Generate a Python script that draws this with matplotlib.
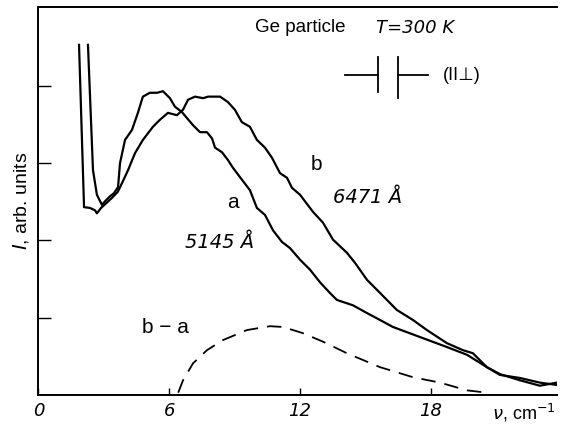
import matplotlib
matplotlib.use("Agg")
import matplotlib.pyplot as plt

# Raman spectra of a Ge particle
# frequency shift nu (cm^-1) and intensity (arb. units, one tick = 1)
nu_b = [1.86, 2.09, 2.36, 2.59, 2.68, 2.87, 3.10, 3.37, 3.64, 3.83, 4.11, 4.43,
        4.79, 5.25, 5.57, 5.94, 6.35, 6.63, 6.86, 7.18, 7.55, 7.78, 8.33, 8.69,
        9.01, 9.33, 9.70, 10.02, 10.39, 10.71, 11.08, 11.40, 11.63, 12.00, 12.59,
        13.05, 13.51, 14.15, 14.52, 15.07, 15.67, 16.44, 17.18, 17.82, 18.74,
        19.47, 19.93, 20.57, 21.17, 22.09, 23.00, 23.78]
int_b = [4.53, 2.43, 2.42, 2.39, 2.35, 2.42, 2.48, 2.55, 2.63, 2.74, 2.91, 3.13,
         3.30, 3.47, 3.56, 3.65, 3.62, 3.69, 3.82, 3.86, 3.84, 3.86, 3.86, 3.79,
         3.69, 3.53, 3.47, 3.30, 3.20, 3.07, 2.87, 2.81, 2.68, 2.59, 2.37,
         2.23, 2.01, 1.84, 1.71, 1.49, 1.32, 1.10, 0.97, 0.84, 0.67,
         0.58, 0.54, 0.36, 0.26, 0.22, 0.16, 0.13]

nu_a = [2.27, 2.50, 2.68, 2.91, 3.10, 3.28, 3.46, 3.65, 3.74, 3.97, 4.29, 4.56,
        4.79, 5.11, 5.44, 5.71, 6.03, 6.26, 6.58, 7.09, 7.41, 7.73, 7.96, 8.10,
        8.42, 8.69, 8.92, 9.24, 9.70, 10.02, 10.39, 10.76, 11.17, 11.54, 12.00,
        12.46, 12.91, 13.37, 13.69, 14.43, 15.07, 15.67, 16.26, 17.50, 18.74,
        19.66, 20.57, 21.17, 22.09, 23.00, 23.78]
int_a = [4.53, 2.91, 2.59, 2.46, 2.52, 2.57, 2.61, 2.69, 3.00, 3.30, 3.43, 3.65,
         3.86, 3.91, 3.91, 3.93, 3.84, 3.73, 3.66, 3.49, 3.40, 3.40, 3.32, 3.20,
         3.14, 3.04, 2.94, 2.82, 2.65, 2.42, 2.33, 2.13, 1.98, 1.90, 1.75,
         1.62, 1.46, 1.32, 1.23, 1.16, 1.06, 0.97, 0.88, 0.75, 0.62,
         0.52, 0.36, 0.27, 0.19, 0.12, 0.16]

# difference spectrum b - a (dashed)
nu_diff = [6.41, 6.63, 7.09, 7.73, 8.46, 9.56, 10.62, 11.22, 12.13, 13.05,
           14.15, 15.67, 17.18, 18.42, 19.66, 20.57]
int_diff = [0.03, 0.19, 0.41, 0.58, 0.71, 0.84, 0.89, 0.88, 0.80, 0.69,
            0.54, 0.36, 0.23, 0.16, 0.06, 0.03]

x_ticks = [0, 6, 12, 18]
y_ticks = [1, 2, 3, 4]

SANS = ["Liberation Sans", "DejaVu Sans"]

fig = plt.figure(figsize=(5.61, 4.25), dpi=100)
ax = fig.add_axes([0.0686, 0.0706, 0.924, 0.913])

ax.plot(nu_b, int_b, color="black", lw=1.6)
ax.plot(nu_a, int_a, color="black", lw=1.6)
ax.plot(nu_diff, int_diff, color="black", lw=1.3, dashes=(8, 5))

ax.set_xlim(0, 23.78)
ax.set_ylim(0, 5.02)
ax.spines["right"].set_visible(False)
for s in ("left", "bottom", "top"):
    ax.spines[s].set_linewidth(1.4)

ax.set_xticks(x_ticks)
ax.set_xticklabels([str(t) for t in x_ticks], fontsize=13, style="italic")
ax.set_yticks(y_ticks)
ax.set_yticklabels([])
ax.tick_params(axis="y", direction="in", length=9, width=1.0)
ax.tick_params(axis="x", direction="in", length=5, width=1.0, pad=5)

ax.set_ylabel("$I$, arb. units", fontsize=14, family=SANS, labelpad=2)
ax.text(0.875, -0.045, r"$\nu$, cm$^{-1}$", transform=ax.transAxes,
        fontsize=13, family=SANS, va="center", ha="left")

tr = ax.transAxes
# header texts
ax.text(0.418, 0.946, "Ge particle", transform=tr, fontsize=13.5,
        family=SANS, va="center", ha="left")
ax.text(0.652, 0.946, "T=300 K", transform=tr, fontsize=13,
        style="italic", va="center", ha="left")

# polarisation symbol  —┤ ├—  (II⊥)
ax.plot([0.591, 0.655], [0.824, 0.824], color="black", lw=1.3, transform=tr)
ax.plot([0.655, 0.655], [0.78, 0.872], color="black", lw=1.3, transform=tr)
ax.plot([0.694, 0.694], [0.765, 0.872], color="black", lw=1.3, transform=tr)
ax.plot([0.694, 0.752], [0.824, 0.824], color="black", lw=1.3, transform=tr)
ax.text(0.781, 0.824, "(II⊥)", transform=tr, fontsize=13,
        family=SANS, va="center", ha="left")

# curve labels
ax.text(0.525, 0.593, "b", transform=tr, fontsize=15, family=SANS,
        va="center", ha="left")
ax.text(0.569, 0.51, "6471 Å", transform=tr, fontsize=14, style="italic",
        va="center", ha="left")
ax.text(0.364, 0.495, "a", transform=tr, fontsize=15, family=SANS,
        va="center", ha="left")
ax.text(0.283, 0.392, "5145 Å", transform=tr, fontsize=14, style="italic",
        va="center", ha="left")
ax.text(0.2, 0.173, "b − a", transform=tr, fontsize=15, family=SANS,
        va="center", ha="left")

fig.savefig("out.png", dpi=100)
